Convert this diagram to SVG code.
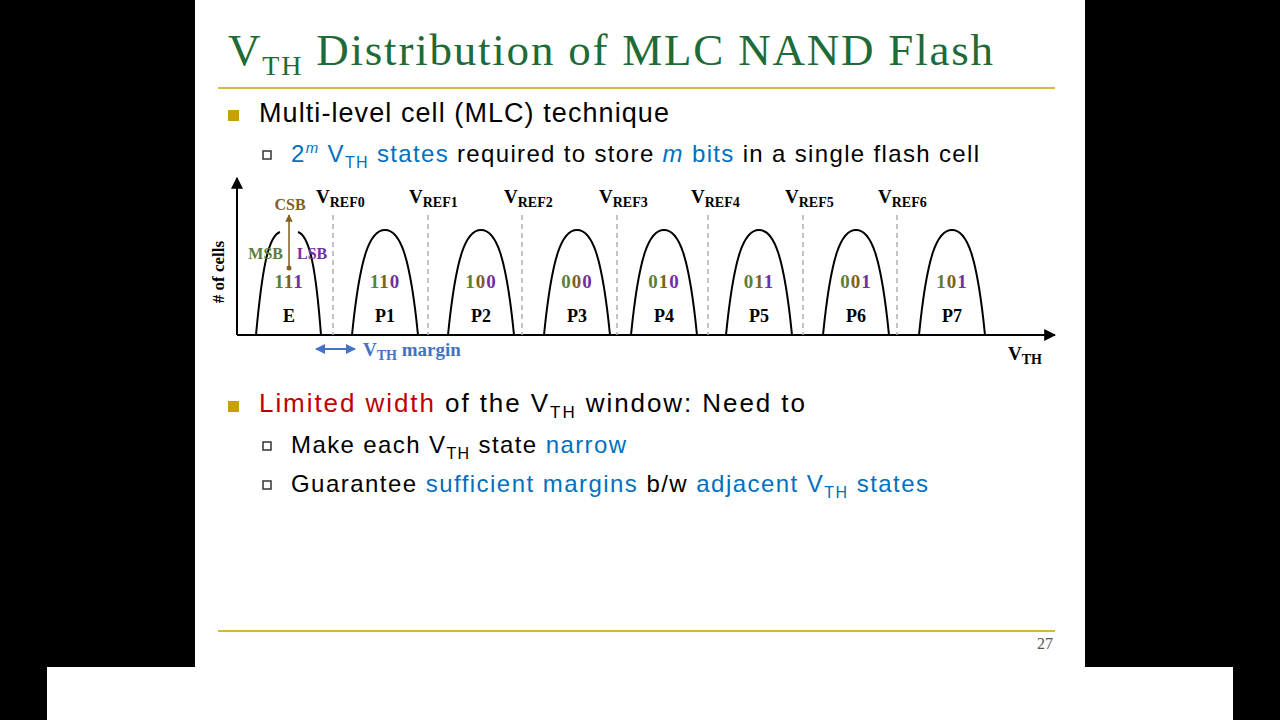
<svg xmlns="http://www.w3.org/2000/svg" width="1280" height="720" viewBox="0 0 1280 720">
<style>
.t{font-family:"Liberation Sans",Arial,sans-serif;fill:#000}
.b{fill:#0070c0}
.r{fill:#c00000}
.s{font-family:"Liberation Serif","DejaVu Serif",serif;font-weight:bold}
.bell{fill:none;stroke:#000;stroke-width:2}
.dash{stroke:#b0b0b0;stroke-width:1.5;stroke-dasharray:5,4}
.g{fill:#5b7f3a}.n{fill:#806020}.p{fill:#7030a0}
</style>
<defs>
<marker id="ah" viewBox="0 0 10 10" refX="9" refY="5" markerWidth="6" markerHeight="6" orient="auto-start-reverse"><path d="M0,0L10,5L0,10z" fill="#000"/></marker>
<marker id="ab" viewBox="0 0 10 10" refX="9" refY="5" markerWidth="5" markerHeight="5" orient="auto-start-reverse"><path d="M0,0L10,5L0,10z" fill="#4472c4"/></marker>
<marker id="an" viewBox="0 0 10 10" refX="9" refY="5" markerWidth="5" markerHeight="5" orient="auto"><path d="M0,0L10,5L0,10z" fill="#806020"/></marker>
</defs>
<rect width="1280" height="720" fill="#000"/>
<rect x="195" y="0" width="890" height="667" fill="#fff"/>
<rect x="47" y="667" width="1186" height="53" fill="#fff"/>
<g id="title">
<text x="228" y="65" font-family="Liberation Serif,serif" font-size="45" fill="#1e6b37" textLength="765" lengthAdjust="spacing">V<tspan font-size="28" dy="10">TH</tspan><tspan dy="-10"> Distribution of MLC NAND Flash</tspan></text>
<line x1="218" y1="88" x2="1055" y2="88" stroke="#c8a000" stroke-width="1.5"/>
<line x1="218" y1="631" x2="1055" y2="631" stroke="#c8a000" stroke-width="1.5"/>
<text x="1053" y="649" text-anchor="end" font-family="Liberation Serif,serif" font-size="16" fill="#555">27</text>
</g>
<g id="bullets">
<rect x="228" y="110" width="11" height="11" fill="#c8a000"/>
<text class="t" x="259" y="122" font-size="27" textLength="410" lengthAdjust="spacing">Multi-level cell (MLC) technique</text>
<rect x="263" y="151" width="8" height="8" fill="none" stroke="#333" stroke-width="1.5"/>
<text class="t" x="291" y="162" font-size="24" textLength="688" lengthAdjust="spacing"><tspan class="b">2<tspan font-size="15" dy="-9" font-style="italic">m</tspan><tspan dy="9"> V</tspan><tspan font-size="16" dy="6">TH</tspan><tspan dy="-6"> states</tspan></tspan> required to store <tspan class="b"><tspan font-style="italic">m</tspan> bits</tspan> in a single flash cell</text>
<rect x="228" y="401" width="11" height="11" fill="#c8a000"/>
<text class="t" x="259" y="412" font-size="26" textLength="546" lengthAdjust="spacing"><tspan class="r">Limited width</tspan> of the V<tspan font-size="17" dy="6">TH</tspan><tspan dy="-6"> window: Need to</tspan></text>
<rect x="263" y="442" width="8" height="8" fill="none" stroke="#333" stroke-width="1.5"/>
<text class="t" x="291" y="453" font-size="24" textLength="335" lengthAdjust="spacing">Make each V<tspan font-size="16" dy="6">TH</tspan><tspan dy="-6"> state </tspan><tspan class="b">narrow</tspan></text>
<rect x="263" y="481" width="8" height="8" fill="none" stroke="#333" stroke-width="1.5"/>
<text class="t" x="291" y="492" font-size="24" textLength="637" lengthAdjust="spacing">Guarantee <tspan class="b">sufficient margins</tspan> b/w <tspan class="b">adjacent V<tspan font-size="16" dy="6">TH</tspan><tspan dy="-6"> states</tspan></tspan></text>
</g>
<g id="connectors">
<line x1="237" y1="335" x2="1055" y2="335" stroke="#000" stroke-width="2" marker-end="url(#ah)"/>
<line x1="237" y1="335" x2="237" y2="178" stroke="#000" stroke-width="2" marker-end="url(#ah)"/>
<line x1="316" y1="349" x2="355" y2="349" stroke="#4472c4" stroke-width="2" marker-start="url(#ab)" marker-end="url(#ab)"/>
<line x1="289" y1="268" x2="289" y2="215" stroke="#806020" stroke-width="1.5" marker-end="url(#an)"/>
<circle cx="289" cy="268" r="2.5" fill="#806020"/>
<g class="dash">
<line x1="333" y1="215" x2="333" y2="335"/><line x1="428" y1="215" x2="428" y2="335"/>
<line x1="522" y1="215" x2="522" y2="335"/><line x1="617" y1="215" x2="617" y2="335"/>
<line x1="708" y1="215" x2="708" y2="335"/><line x1="803" y1="215" x2="803" y2="335"/>
<line x1="897" y1="215" x2="897" y2="335"/>
</g>
</g>
<g id="bells">
<path class="bell" d="M256 335 C262 270 268 236 280 232"/>
<path class="bell" d="M298 232 C310 236 316 270 321 335"/>
<path class="bell" d="M352 335 C360 255 370 230 385 230 C400 230 410 255 418 335"/>
<path class="bell" d="M448 335 C456 255 466 230 481 230 C496 230 506 255 514 335"/>
<path class="bell" d="M544 335 C552 255 562 230 577 230 C592 230 602 255 610 335"/>
<path class="bell" d="M631 335 C639 255 649 230 664 230 C679 230 689 255 697 335"/>
<path class="bell" d="M726 335 C734 255 744 230 759 230 C774 230 784 255 792 335"/>
<path class="bell" d="M823 335 C831 255 841 230 856 230 C871 230 881 255 889 335"/>
<path class="bell" d="M919 335 C927 255 937 230 952 230 C967 230 977 255 985 335"/>
</g>
<g id="labels" class="s" font-size="17">
<text x="290" y="210" text-anchor="middle" class="n" font-size="16">CSB</text>
<text x="283" y="259" text-anchor="end" class="g" font-size="16">MSB</text>
<text x="297" y="259" class="p" font-size="16">LSB</text>
<text transform="translate(224,272) rotate(-90)" text-anchor="middle" font-size="17"># of cells</text>
<text x="316" y="203" font-size="19">V<tspan font-size="14" dy="4">REF0</tspan></text>
<text x="409" y="203" font-size="19">V<tspan font-size="14" dy="4">REF1</tspan></text>
<text x="504" y="203" font-size="19">V<tspan font-size="14" dy="4">REF2</tspan></text>
<text x="599" y="203" font-size="19">V<tspan font-size="14" dy="4">REF3</tspan></text>
<text x="691" y="203" font-size="19">V<tspan font-size="14" dy="4">REF4</tspan></text>
<text x="785" y="203" font-size="19">V<tspan font-size="14" dy="4">REF5</tspan></text>
<text x="878" y="203" font-size="19">V<tspan font-size="14" dy="4">REF6</tspan></text>
<text x="1008" y="360" font-size="19">V<tspan font-size="14" dy="4">TH</tspan></text>
<text x="363" y="356" font-size="19" fill="#4472c4">V<tspan font-size="14" dy="4">TH</tspan><tspan dy="-4">  margin</tspan></text>
<g text-anchor="middle" font-size="19" letter-spacing="1">
<text x="289" y="288"><tspan class="g">1</tspan><tspan class="n">1</tspan><tspan class="p">1</tspan></text>
<text x="385" y="288"><tspan class="g">1</tspan><tspan class="n">1</tspan><tspan class="p">0</tspan></text>
<text x="481" y="288"><tspan class="g">1</tspan><tspan class="n">0</tspan><tspan class="p">0</tspan></text>
<text x="577" y="288"><tspan class="g">0</tspan><tspan class="n">0</tspan><tspan class="p">0</tspan></text>
<text x="664" y="288"><tspan class="g">0</tspan><tspan class="n">1</tspan><tspan class="p">0</tspan></text>
<text x="759" y="288"><tspan class="g">0</tspan><tspan class="n">1</tspan><tspan class="p">1</tspan></text>
<text x="856" y="288"><tspan class="g">0</tspan><tspan class="n">0</tspan><tspan class="p">1</tspan></text>
<text x="952" y="288"><tspan class="g">1</tspan><tspan class="n">0</tspan><tspan class="p">1</tspan></text>
</g>
<g text-anchor="middle" font-size="18">
<text x="289" y="322">E</text><text x="385" y="322">P1</text><text x="481" y="322">P2</text><text x="577" y="322">P3</text>
<text x="664" y="322">P4</text><text x="759" y="322">P5</text><text x="856" y="322">P6</text><text x="952" y="322">P7</text>
</g>
</g>
</svg>
